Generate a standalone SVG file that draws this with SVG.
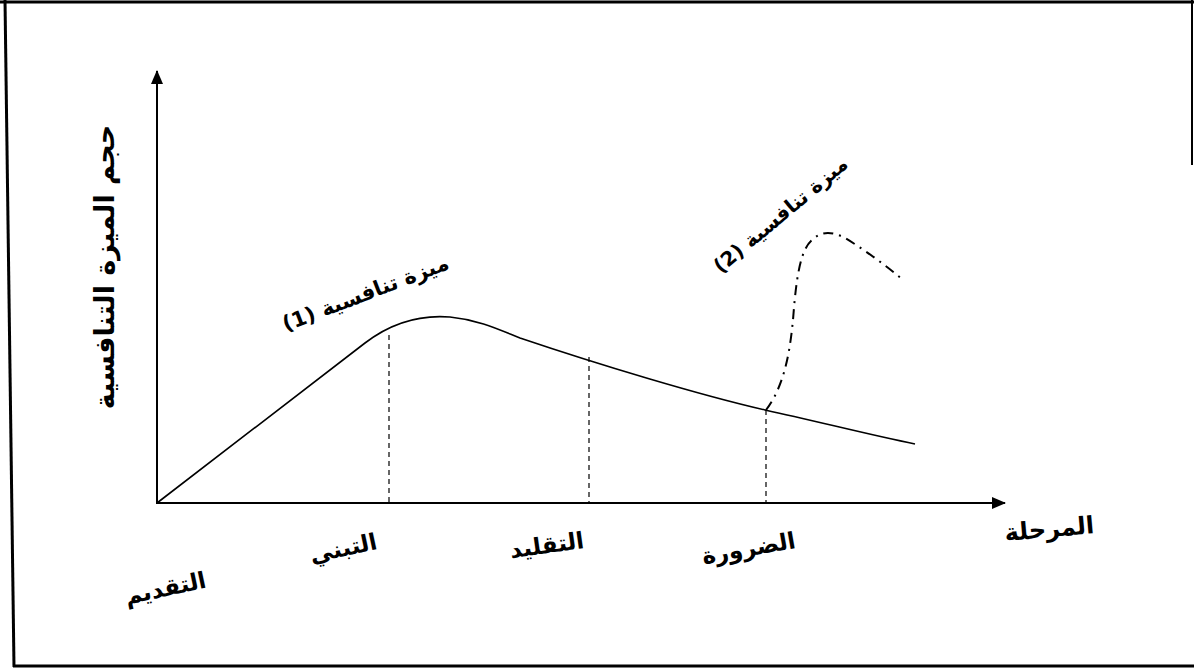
<svg xmlns="http://www.w3.org/2000/svg" width="1194" height="669" viewBox="0 0 1194 669">
<style>
.ar{font-family:"DejaVu Sans","Noto Sans",sans-serif;font-weight:bold;fill:#000;direction:rtl;text-anchor:middle}
.ax{stroke:#000;stroke-width:2;fill:none}
.cv{stroke:#000;stroke-width:1.6;fill:none}
.dash{stroke:#000;stroke-width:1.2;stroke-dasharray:5,4;fill:none}
.dd{stroke:#000;stroke-width:2;stroke-dasharray:10,6,2,6;fill:none}
</style>
<defs>
<marker id="arrL" markerWidth="14" markerHeight="14" refX="13" refY="7" orient="auto" markerUnits="userSpaceOnUse" viewBox="0 0 14 14">
<path d="M0,1 L14,7 L0,13 z" fill="#000"/>
</marker>
</defs>
<rect width="1194" height="669" fill="#fff"/>
<g id="frame" stroke="#000" stroke-width="3" fill="none">
<line x1="0" y1="2" x2="1194" y2="2"/>
<line x1="5" y1="0" x2="14" y2="667"/>
<line x1="13" y1="666" x2="1194" y2="666"/>
<line x1="1192" y1="0" x2="1192" y2="165" stroke-width="2"/>
</g>
<g id="connectors">
<line class="ax" x1="157" y1="504" x2="157" y2="71" marker-end="url(#arrL)"/>
<line class="ax" x1="157" y1="503" x2="1005" y2="503" marker-end="url(#arrL)"/>
<path class="cv" d="M157,503 L365,343 C395,320 425,315 450,317 C480,320 500,330 520,338 C600,365 700,395 765,410 C820,422 870,435 915,444"/>
<line class="dash" x1="389" y1="335" x2="389" y2="503"/>
<line class="dash" x1="589" y1="357" x2="589" y2="503"/>
<line class="dash" x1="766" y1="410" x2="766" y2="503"/>
<path class="dd" d="M766,410 C785,385 790,350 793,320 C796,280 800,250 812,240 C820,232 830,230 845,238 C865,250 885,265 902,279"/>
</g>
<g id="label-adv1"><text class="ar" font-size="21" transform="translate(368,300) rotate(-21)">ميزة تنافسية (1)</text></g>
<g id="label-adv2"><text class="ar" font-size="20" transform="translate(785,220) rotate(-40)">ميزة تنافسية (2)</text></g>
<g id="label-y"><text class="ar" font-size="27" transform="translate(114,267) rotate(-90)">حجم الميزة التنافسية</text></g>
<g id="label-x"><text class="ar" font-size="24" transform="translate(1050,537) rotate(-5)">المرحلة</text></g>
<g id="stage1"><text class="ar" font-size="23" transform="translate(167,596) rotate(-12)">التقديم</text></g>
<g id="stage2"><text class="ar" font-size="23" transform="translate(345,556) rotate(-12)">التبني</text></g>
<g id="stage3"><text class="ar" font-size="23" transform="translate(548,553) rotate(-8)">التقليد</text></g>
<g id="stage4"><text class="ar" font-size="23" transform="translate(750,556) rotate(-10)">الضرورة</text></g>
</svg>
